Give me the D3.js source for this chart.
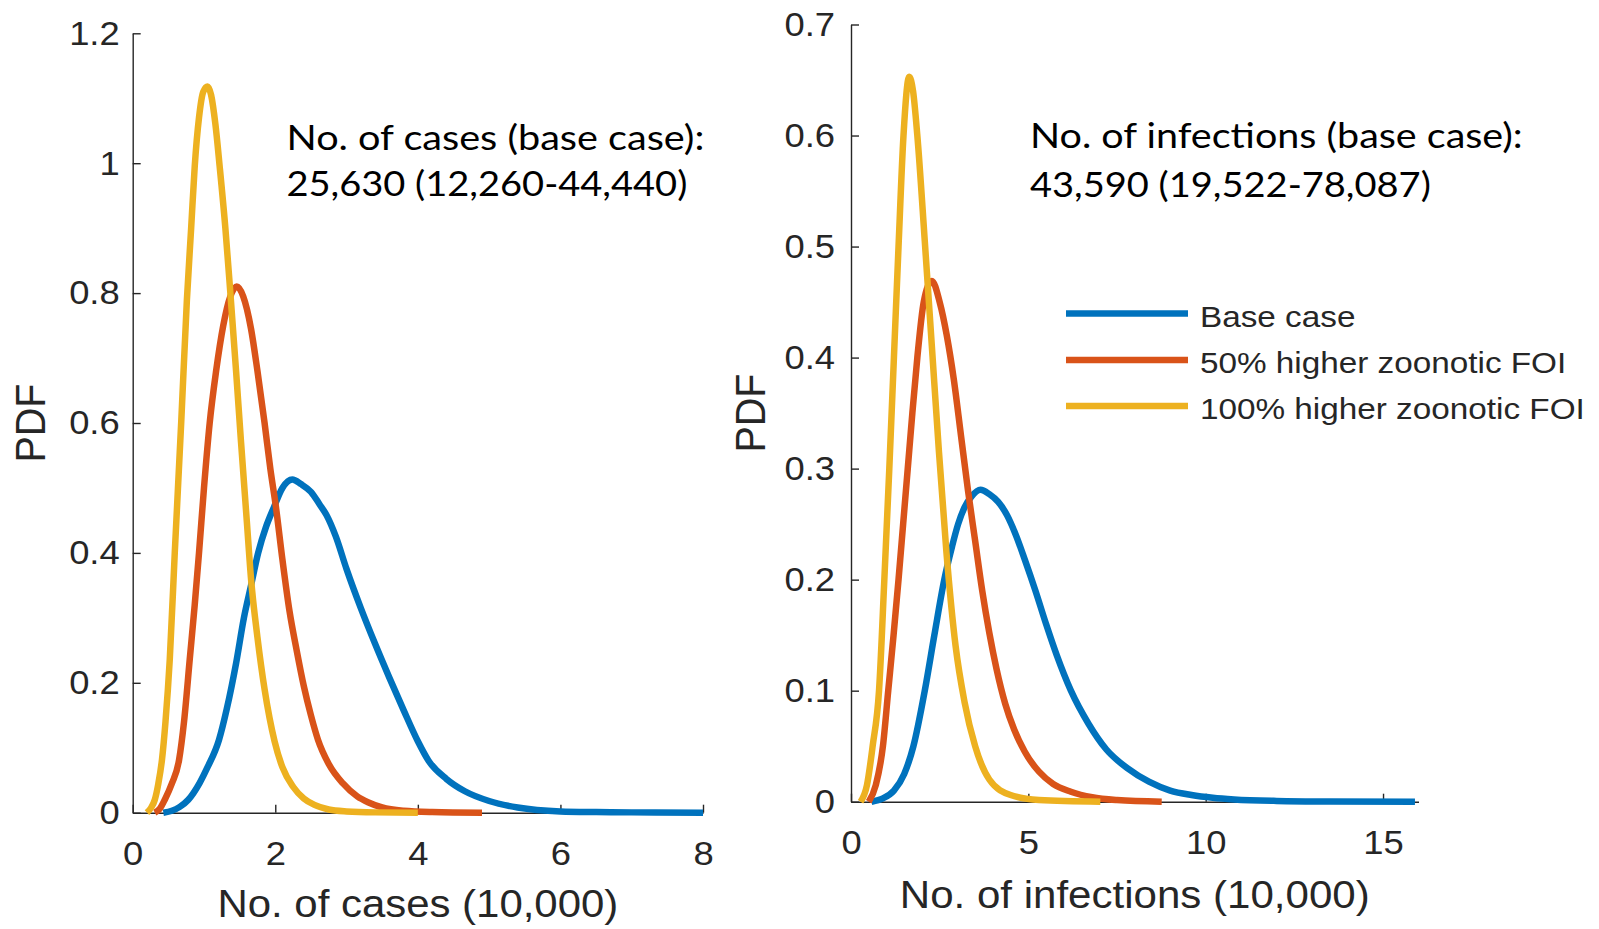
<!DOCTYPE html>
<html>
<head>
<meta charset="utf-8">
<script src="https://cdn.jsdelivr.net/npm/d3@7"></script>
<style>
  html, body { margin: 0; padding: 0; background: #ffffff; }
  svg { display: block; }
</style>
</head>
<body>
<svg id="chart" width="1599" height="929"></svg>
<script>
// ---------------- DATA ----------------
// Left panel: No. of cases (10,000)
const casesTicksX = [0, 2, 4, 6, 8];
const casesTicksY = [0, 0.2, 0.4, 0.6, 0.8, 1, 1.2];

const casesBaseX = [0.43, 0.55, 0.66, 0.78, 0.94, 1.05, 1.21, 1.32, 1.45, 1.56, 1.66, 1.76, 1.87, 1.98, 2.1, 2.24, 2.36, 2.5, 2.62, 2.72, 2.85, 3.0, 3.2, 3.4, 3.6, 3.8, 4.0, 4.15, 4.4, 4.66, 5.0, 5.4, 6.0, 6.5, 7.0, 8.0];
const casesBaseY = [0, 0.003, 0.009, 0.02, 0.046, 0.07, 0.112, 0.16, 0.23, 0.3, 0.35, 0.4, 0.44, 0.47, 0.5, 0.513, 0.506, 0.494, 0.475, 0.458, 0.425, 0.375, 0.315, 0.26, 0.208, 0.158, 0.11, 0.08, 0.052, 0.033, 0.018, 0.008, 0.002, 0.001, 0.0005, 0];

const cases50X = [0.31, 0.38, 0.45, 0.55, 0.65, 0.72, 0.8, 0.87, 0.93, 1.0, 1.08, 1.17, 1.27, 1.37, 1.46, 1.55, 1.66, 1.75, 1.85, 1.93, 2.01, 2.1, 2.2, 2.3, 2.4, 2.5, 2.6, 2.75, 2.95, 3.15, 3.3, 3.5, 3.8, 4.2, 4.9];
const cases50Y = [0, 0.006, 0.02, 0.045, 0.081, 0.14, 0.236, 0.32, 0.4, 0.5, 0.6, 0.68, 0.75, 0.795, 0.81, 0.795, 0.745, 0.68, 0.6, 0.53, 0.47, 0.39, 0.31, 0.25, 0.195, 0.15, 0.112, 0.075, 0.045, 0.025, 0.016, 0.008, 0.003, 0.001, 0];

const cases100X = [0.2, 0.26, 0.31, 0.36, 0.41, 0.46, 0.52, 0.59, 0.68, 0.76, 0.82, 0.87, 0.93, 0.99, 1.05, 1.1, 1.16, 1.22, 1.3, 1.37, 1.45, 1.52, 1.6, 1.66, 1.75, 1.85, 1.99, 2.1, 2.25, 2.4, 2.55, 2.75, 3.0, 3.4, 4.0];
const cases100Y = [0, 0.008, 0.02, 0.045, 0.081, 0.14, 0.236, 0.4, 0.6, 0.789, 0.9, 0.995, 1.07, 1.11, 1.118, 1.105, 1.06, 0.995, 0.9, 0.8, 0.68, 0.57, 0.45, 0.36, 0.27, 0.19, 0.11, 0.07, 0.04, 0.022, 0.012, 0.005, 0.002, 0.0005, 0];

// Right panel: No. of infections (10,000)
const infTicksX = [0, 5, 10, 15];
const infTicksY = [0, 0.1, 0.2, 0.3, 0.4, 0.5, 0.6, 0.7];

const infBaseX = [0.58, 0.9, 1.21, 1.5, 1.76, 2.08, 2.35, 2.63, 2.85, 3.02, 3.2, 3.4, 3.65, 3.9, 4.15, 4.4, 4.65, 4.9, 5.2, 5.5, 5.8, 6.2, 6.7, 7.2, 7.8, 8.4, 9.0, 9.6, 10.2, 10.8, 12, 13.5, 15.9];
const infBaseY = [0, 0.003, 0.01, 0.025, 0.05, 0.1, 0.15, 0.2, 0.23, 0.25, 0.265, 0.275, 0.281, 0.277, 0.27, 0.258, 0.24, 0.218, 0.19, 0.16, 0.132, 0.1, 0.07, 0.047, 0.03, 0.018, 0.01, 0.006, 0.0035, 0.002, 0.0007, 0.0002, 0];

const inf50X = [0.5, 0.7, 0.9, 1.05, 1.2, 1.34, 1.47, 1.6, 1.73, 1.87, 2.05, 2.28, 2.5, 2.7, 2.9, 3.1, 3.3, 3.5, 3.7, 3.9, 4.1, 4.35, 4.6, 4.9, 5.3, 5.7, 6.2, 6.8, 7.5, 8.76];
const inf50Y = [0, 0.015, 0.05, 0.1, 0.15, 0.2, 0.25, 0.3, 0.35, 0.4, 0.45, 0.469, 0.45, 0.42, 0.38, 0.33, 0.28, 0.235, 0.19, 0.152, 0.12, 0.088, 0.065, 0.045, 0.027, 0.016, 0.009, 0.004, 0.0015, 0];

const inf100X = [0.27, 0.45, 0.61, 0.79, 0.94, 1.08, 1.21, 1.34, 1.48, 1.64, 1.75, 1.87, 2.08, 2.28, 2.48, 2.69, 2.95, 3.2, 3.5, 3.9, 4.5, 5.3, 7.03];
const inf100Y = [0, 0.015, 0.05, 0.1, 0.2, 0.3, 0.4, 0.5, 0.6, 0.653, 0.64, 0.6, 0.505, 0.41, 0.315, 0.225, 0.14, 0.09, 0.05, 0.02, 0.006, 0.0015, 0];

const seriesNames = ["Base case", "50% higher zoonotic FOI", "100% higher zoonotic FOI"];
const seriesColors = ["#0072BD", "#D95319", "#EDB120"];

const casesNote = ["No. of cases (base case):", "25,630 (12,260-44,440)"];
const infNote = ["No. of infections (base case):", "43,590 (19,522-78,087)"];

// ---------------- DRAWING ----------------
const svg = d3.select("#chart");
const AX = "#262626";
const SANS = "'Liberation Sans', Arial, Helvetica, sans-serif";
const CAL = "Lato, 'Open Sans', sans-serif";
const K = 1.07; // horizontal stretch of the source rendering
const LW = 6.5;

function zip(xs, ys) { return xs.map((x, i) => ({ x: x, y: ys[i] })); }

function fitText(sel, target) {
  const w = sel.node().getComputedTextLength();
  return target / w;
}

function drawPanel(cfg) {
  const x = d3.scaleLinear().domain(cfg.xDomain).range(cfg.xRange);
  const y = d3.scaleLinear().domain(cfg.yDomain).range(cfg.yRange);
  const g = svg.append("g");

  const fmt = d => String(+d.toFixed(1));

  const xa = g.append("g")
    .attr("transform", `translate(0,${cfg.yRange[0]})`)
    .call(d3.axisBottom(x).tickValues(cfg.ticksX).tickFormat(fmt)
      .tickSizeInner(-8).tickSizeOuter(0).tickPadding(28.4));
  const ya = g.append("g")
    .attr("transform", `translate(${cfg.xRange[0]},0)`)
    .call(d3.axisLeft(y).tickValues(cfg.ticksY).tickFormat(fmt)
      .tickSizeInner(-8).tickSizeOuter(0).tickPadding(cfg.yPad));

  [xa, ya].forEach(a => {
    a.select(".domain").attr("stroke", AX).attr("stroke-width", 1.4);
    a.selectAll(".tick line").attr("stroke", AX).attr("stroke-width", 1.4);
    a.selectAll(".tick text")
      .attr("fill", AX)
      .style("font-family", SANS)
      .style("font-size", "34px");
  });
  xa.selectAll(".tick text").attr("transform", `scale(${K},1)`);
  ya.selectAll(".tick text")
    .attr("x", -cfg.yPad / K)
    .attr("transform", `scale(${K},1)`);

  const line = d3.line().x(d => x(d.x)).y(d => y(d.y)).curve(d3.curveMonotoneX);
  cfg.series.forEach((s, i) => {
    g.append("path")
      .datum(zip(s[0], s[1]))
      .attr("fill", "none")
      .attr("stroke", seriesColors[i])
      .attr("stroke-width", LW)
      .attr("stroke-linejoin", "round")
      .attr("d", line);
  });

  const xt = g.append("text")
    .attr("text-anchor", "middle")
    .attr("fill", AX)
    .style("font-family", SANS)
    .style("font-size", "39px")
    .text(cfg.xTitle);
  const kx = fitText(xt, cfg.xTitleW);
  xt.attr("transform", `translate(${(cfg.xRange[0] + cfg.xRange[1]) / 2},${cfg.xTitleY}) scale(${kx},1)`);

  g.append("text")
    .attr("text-anchor", "middle")
    .attr("dominant-baseline", "central")
    .attr("fill", AX)
    .style("font-family", SANS)
    .style("font-size", "39.5px")
    .attr("transform", `translate(${cfg.yTitleX},${(cfg.yRange[0] + cfg.yRange[1]) / 2}) scale(${K},1) rotate(-90)`)
    .text("PDF");

  cfg.note.forEach((t, i) => {
    const tx = g.append("text")
      .attr("fill", "#000")
      .style("font-family", CAL)
      .style("font-size", "35px")
      .text(t);
    const k = fitText(tx, cfg.noteW[i]);
    tx.attr("transform", `translate(${cfg.noteX},${cfg.noteY[i]}) scale(${k},1)`);
  });
  return { g, x, y };
}

drawPanel({
  xDomain: [0, 8], yDomain: [0, 1.2],
  xRange: [132.7, 703], yRange: [812.7, 33.3],
  ticksX: casesTicksX, ticksY: casesTicksY, yPad: 13,
  series: [[casesBaseX, casesBaseY], [cases50X, cases50Y], [cases100X, cases100Y]],
  xTitle: "No. of cases (10,000)", xTitleW: 401, xTitleY: 917,
  yTitleX: 31,
  note: casesNote, noteX: 286.5, noteY: [150, 196], noteW: [418, 401]
});

drawPanel({
  xDomain: [0, 16], yDomain: [0, 0.7],
  xRange: [851, 1418.5], yRange: [801.7, 24.5],
  ticksX: infTicksX, ticksY: infTicksY, yPad: 16,
  series: [[infBaseX, infBaseY], [inf50X, inf50Y], [inf100X, inf100Y]],
  xTitle: "No. of infections (10,000)", xTitleW: 470, xTitleY: 908,
  yTitleX: 751,
  note: infNote, noteX: 1030, noteY: [148, 197], noteW: [493, 401]
});

// legend (right panel)
const leg = svg.append("g");
const legY = [313.5, 360, 406];
seriesNames.forEach((name, i) => {
  leg.append("line")
    .attr("x1", 1066).attr("x2", 1188)
    .attr("y1", legY[i]).attr("y2", legY[i])
    .attr("stroke", seriesColors[i])
    .attr("stroke-width", LW);
  leg.append("text")
    .attr("fill", AX)
    .style("font-family", SANS)
    .style("font-size", "29.5px")
    .text(name);
});
const legTexts = leg.selectAll("text");
const kLeg = fitText(d3.select(legTexts.nodes()[2]), 385);
legTexts.each(function(_, j) {
  d3.select(this).attr("transform", `translate(1200,${legY[j] + 13}) scale(${kLeg},1)`);
});
</script>
</body>
</html>
